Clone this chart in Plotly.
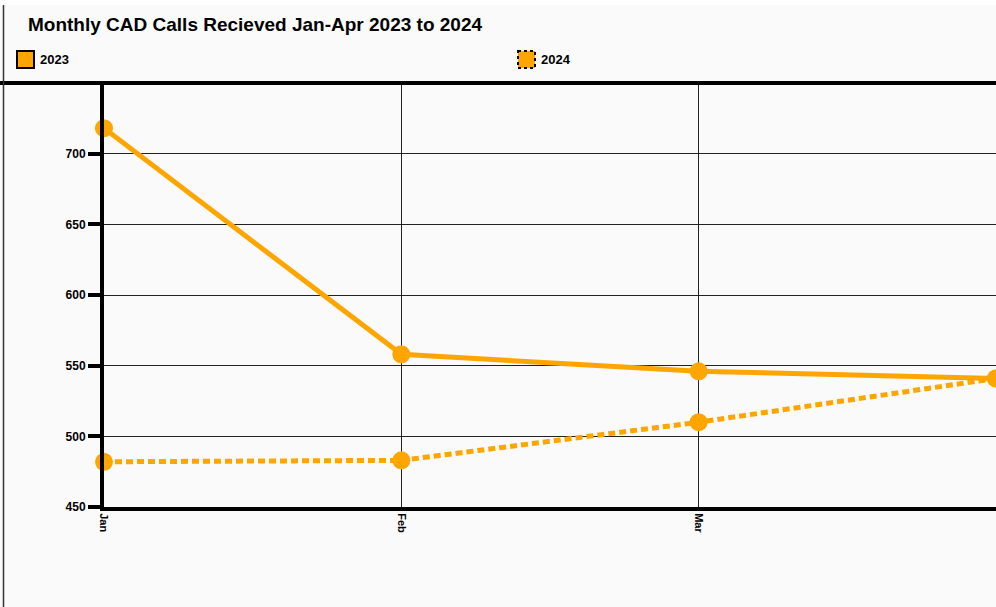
import plotly.graph_objects as go

months = ["Jan", "Feb", "Mar", "Apr"]
series_names = ["2023", "2024"]
calls_2023 = [718, 558, 546, 541]
calls_2024 = [482, 483, 510, 541]
y_ticks = [450, 500, 550, 600, 650, 700]

ORANGE = "#FFA500"
W, H = 996, 607
L, R, T, B = 104, 996, 83, 507

def px(x):
    return (x - L) / (R - L)

def py(y):
    return (B - y) / (B - T)

fig = go.Figure()
fig.add_trace(go.Scatter(
    x=list(range(len(months))), y=calls_2023, name=series_names[0],
    mode="lines+markers", line=dict(color=ORANGE, width=5),
    marker=dict(size=18, color=ORANGE), cliponaxis=False, showlegend=False))
fig.add_trace(go.Scatter(
    x=list(range(len(months))), y=calls_2024, name=series_names[1],
    mode="lines+markers", line=dict(color=ORANGE, width=5, dash="7px,4px"),
    marker=dict(size=18, color=ORANGE), cliponaxis=False, showlegend=False))

shapes = [
    # top white strip
    dict(type="rect", xref="paper", yref="paper", x0=px(0), x1=px(W), y0=py(0), y1=py(5),
         fillcolor="white", line=dict(width=0), layer="below"),
    # top thick rule
    dict(type="line", xref="paper", yref="paper", x0=px(0), x1=px(W), y0=py(83), y1=py(83),
         line=dict(color="black", width=4)),
    # left border
    dict(type="line", xref="paper", yref="paper", x0=px(3.5), x1=px(3.5), y0=py(5), y1=py(H),
         line=dict(color="#333333", width=1.5)),
    # legend swatches
    dict(type="rect", xref="paper", yref="paper", x0=px(17), x1=px(34), y0=py(51), y1=py(68),
         fillcolor=ORANGE, line=dict(color="black", width=2)),
    dict(type="rect", xref="paper", yref="paper", x0=px(518), x1=px(535), y0=py(51), y1=py(68),
         fillcolor=ORANGE, line=dict(color="black", width=2, dash="dot")),
]

annotations = [
    dict(text="<b>Monthly CAD Calls Recieved Jan-Apr 2023 to 2024</b>", xref="paper", yref="paper",
         x=px(26), y=py(25), xanchor="left", yanchor="middle", showarrow=False,
         font=dict(size=19, color="black", family="Liberation Sans, Arial")),
    dict(text="<b>%s</b>" % series_names[0], xref="paper", yref="paper",
         x=px(38), y=py(59.5), xanchor="left", yanchor="middle", showarrow=False,
         font=dict(size=13, color="black")),
    dict(text="<b>%s</b>" % series_names[1], xref="paper", yref="paper",
         x=px(539), y=py(59.5), xanchor="left", yanchor="middle", showarrow=False,
         font=dict(size=13, color="black")),
]

fig.update_layout(
    width=W, height=H,
    margin=dict(l=L, r=W - R, t=T, b=H - B, pad=0),
    paper_bgcolor="#fafafa", plot_bgcolor="#fafafa",
    font=dict(family="Liberation Sans, Arial", color="black"),
    shapes=shapes, annotations=annotations,
    showlegend=False,
    xaxis=dict(
        range=[0, 3.0], tickmode="array", tickvals=list(range(len(months))), ticktext=["<b>%s</b>" % m for m in months],
        tickangle=90, tickfont=dict(size=11), showgrid=True, gridcolor="#222222", gridwidth=1,
        showline=True, linecolor="black", linewidth=4, ticks="", zeroline=False, fixedrange=True),
    yaxis=dict(
        range=[450, 750], tickmode="array", tickvals=y_ticks, ticktext=["<b>%d</b>" % v for v in y_ticks],
        tickfont=dict(size=12), showgrid=True, gridcolor="#222222", gridwidth=1,
        showline=True, linecolor="black", linewidth=4, ticks="outside", ticklen=12, tickwidth=4,
        tickcolor="black", zeroline=False, fixedrange=True),
)

fig.write_html("out.html")
